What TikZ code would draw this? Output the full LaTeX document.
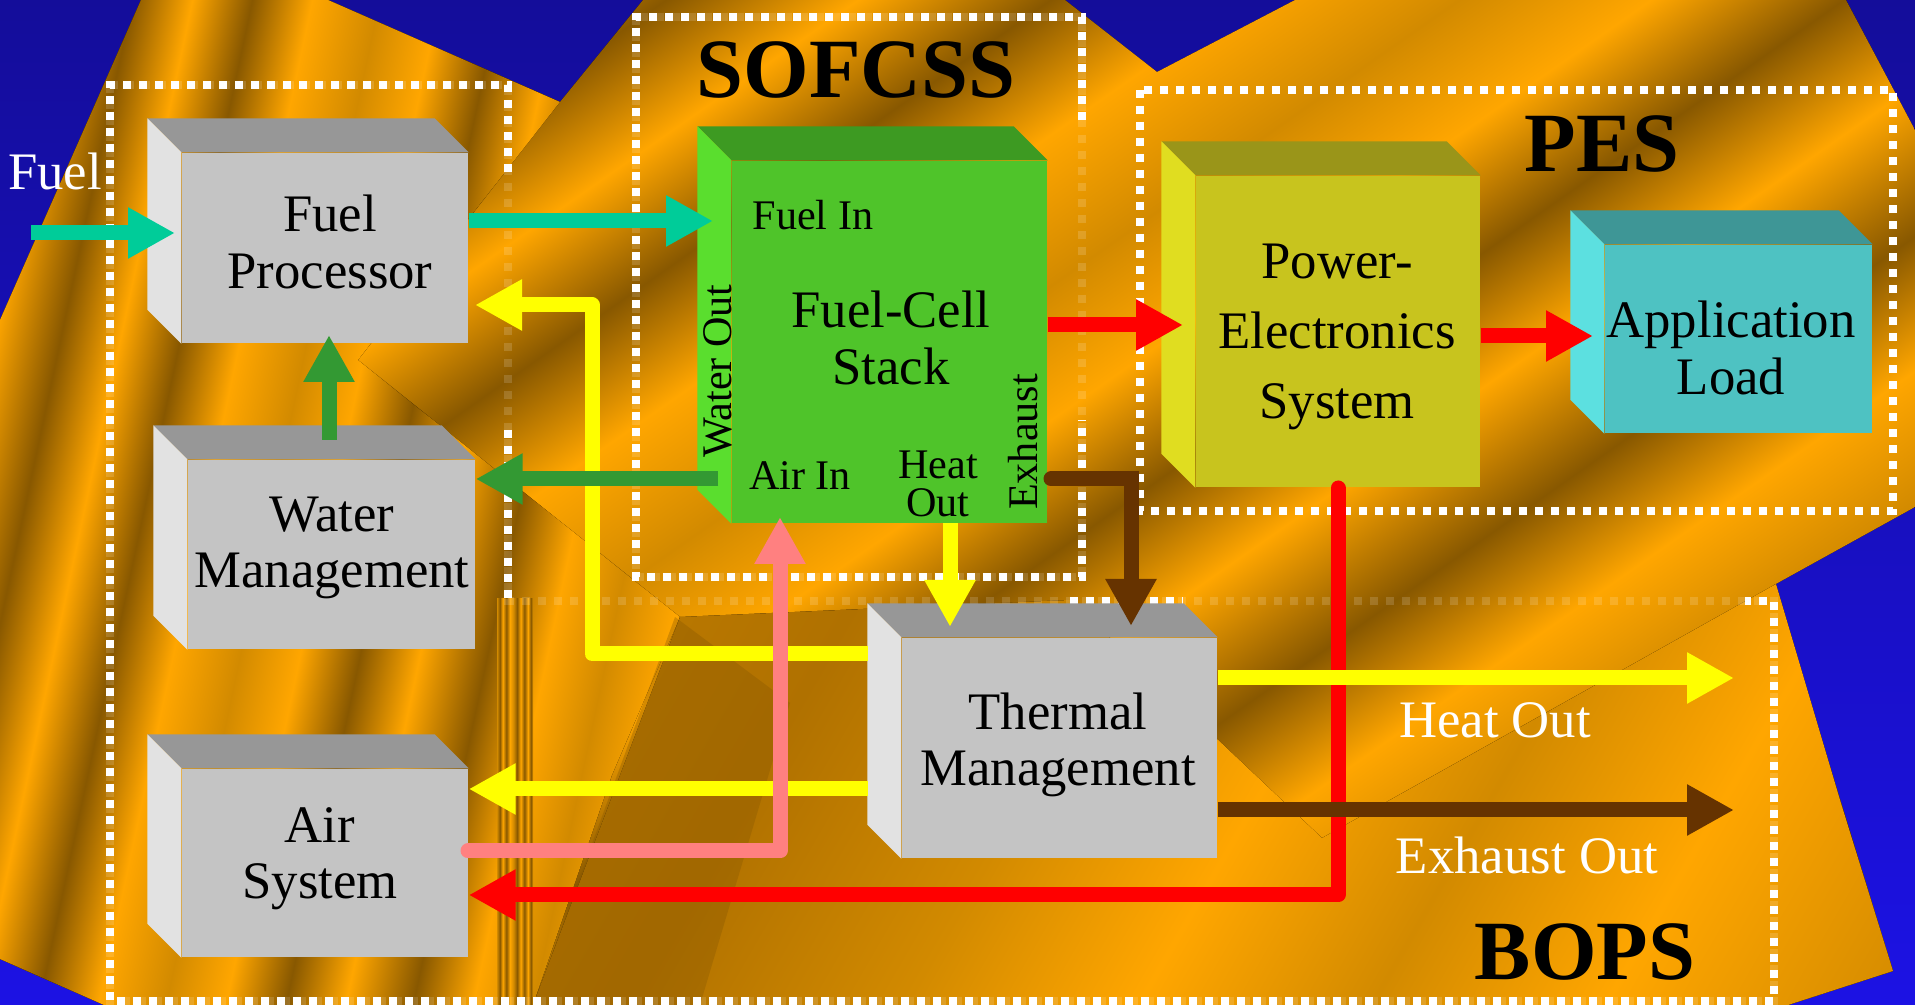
\documentclass[tikz,border=0pt]{standalone}
\usepackage{fontspec}
\setmainfont{Liberation Serif}
\usetikzlibrary{arrows.meta, calc, fit, positioning}

\definecolor{bgBlue}{RGB}{20,13,154}
\definecolor{bgBlueB}{RGB}{28,18,228}
\definecolor{goldL}{RGB}{255,166,0}
\definecolor{goldD}{RGB}{136,88,0}
\definecolor{goldM}{RGB}{210,138,0}
\definecolor{goldS}{RGB}{176,113,0}
\definecolor{greyF}{RGB}{196,196,196}
\definecolor{greyT}{RGB}{151,151,151}
\definecolor{greyL}{RGB}{226,226,226}
\definecolor{stackF}{RGB}{79,196,42}
\definecolor{stackT}{RGB}{61,154,34}
\definecolor{stackL}{RGB}{90,222,46}
\definecolor{pesF}{RGB}{200,196,30}
\definecolor{pesT}{RGB}{154,149,25}
\definecolor{pesL}{RGB}{224,221,32}
\definecolor{loadF}{RGB}{78,194,194}
\definecolor{loadT}{RGB}{62,150,150}
\definecolor{loadL}{RGB}{92,224,224}
\definecolor{cTeal}{RGB}{0,204,153}
\definecolor{cYel}{RGB}{255,255,0}
\definecolor{cGrn}{RGB}{51,153,51}
\definecolor{cRed}{RGB}{255,0,0}
\definecolor{cBrn}{RGB}{102,51,0}
\definecolor{cPink}{RGB}{255,128,128}

\pgfdeclarehorizontalshading{goldbands}{100bp}{color(0bp)=(goldL); color(4bp)=(goldD); color(8bp)=(goldL); color(12.5bp)=(goldD); color(16.5bp)=(goldL); color(20.5bp)=(goldM); color(24.5bp)=(goldL); color(29bp)=(goldD); color(33bp)=(goldL); color(37bp)=(goldD); color(41bp)=(goldL); color(45.5bp)=(goldM); color(49.5bp)=(goldL); color(53.5bp)=(goldD); color(57.5bp)=(goldL); color(62bp)=(goldD); color(66bp)=(goldL); color(70bp)=(goldM); color(74bp)=(goldL); color(78.5bp)=(goldD); color(82.5bp)=(goldL); color(86.5bp)=(goldD); color(90.5bp)=(goldL); color(95bp)=(goldM); color(100bp)=(goldL)}
\pgfdeclarehorizontalshading{goldsoft}{100bp}{color(0bp)=(goldM); color(30bp)=(goldS); color(42bp)=(goldM); color(52bp)=(goldL); color(62bp)=(goldM); color(72bp)=(goldL); color(85bp)=(goldM); color(100bp)=(goldM)}
\pgfdeclarehorizontalshading{colstripes}{100bp}{color(0bp)=(goldM); color(25bp)=(goldM); color(29bp)=(goldD); color(33bp)=(goldL); color(38bp)=(goldD); color(43bp)=(goldL); color(48bp)=(goldM); color(53bp)=(goldD); color(58bp)=(goldL); color(63bp)=(goldD); color(68bp)=(goldL); color(72bp)=(goldD); color(75bp)=(goldM); color(100bp)=(goldM)}

\tikzset{
  zone/.style={draw=white, line width=0.8mm, dash pattern=on 0.8mm off 0.8mm},
  flow/.style={line width=1.5mm, -{Triangle[length=4.7mm, width=4.8mm]}},
  boxtxt/.style={font=\fontsize{15}{16}\selectfont, align=center, inner sep=0pt},
  porttxt/.style={font=\fontsize{12}{11}\selectfont, align=center, inner sep=0pt},
  zonetxt/.style={font=\fontsize{24}{26}\selectfont\bfseries, inner sep=0pt},
  outtxt/.style={font=\fontsize{15}{16}\selectfont, text=white, inner sep=0pt}
}

% front face as a node, top and left faces drawn from its anchors
\newcommand{\cubebox}[4]{%
  \node[fit={#2 #3}, inner sep=0pt, fill=#4F] (#1) {};
  \fill[#4T] (#1.north west) -- ++(-34,-34) -- ($(#1.north east)+(-34,-34)$) -- (#1.north east) -- cycle;
  \fill[#4L] (#1.north west) -- ++(-34,-34) -- ($(#1.south west)+(-34,-34)$) -- (#1.south west) -- cycle;
}

\begin{document}
\begin{tikzpicture}[x=0.1mm, y=-0.1mm]
    \useasboundingbox (0,0) rectangle (1915,1005);

    % Background
    \fill[top color=bgBlue, bottom color=bgBlueB] (0,0) rectangle (1915,1005);
    \fill[shading=goldbands, shading angle=-55] (141,0) -- (328,0) -- (560,102) -- (643,0) -- (1065,0) -- (1157,72) -- (1295,0) -- (1846,0) -- (1915,130) -- (1915,507) -- (1774,585) -- (1893,971) -- (1788,1005) -- (104,1005) -- (0,959) -- (0,320) -- cycle;
    \fill[shading=goldbands, shading angle=-12] (0,320) -- (141,0) -- (328,0) -- (560,102) -- (358,360) -- (680,617) -- (612,775) -- (533,1005) -- (104,1005) -- (0,959) -- cycle;
    \fill[shading=goldsoft, shading angle=-30] (533,1005) -- (680,617) -- (1070,600) -- (1322,838) -- (1776,584) -- (1840,800) -- (1893,971) -- (1788,1005) -- cycle;
    \fill[goldD, opacity=0.35] (675,617) -- (790,703) -- (700,1005) -- (533,1005) -- cycle;
    \fill[shading=colstripes] (497,599) rectangle (533,1005);

    % Zones
    \draw[zone, opacity=0.15] (110,85) -- (508,85) -- (508,601) -- (1774,601) -- (1774,1001) -- (110,1001) -- cycle;
    \draw[zone] (508,172) -- (508,85) -- (110,85) -- (110,1001) -- (1774,1001) -- (1774,601) -- (1745,601);
    \draw[zone] (508,430) -- (508,601);
    \draw[zone] (1070,601) -- (1183,601);
    \draw[zone, opacity=0.15] (636,17) rectangle (1082,577);
    \draw[zone] (1082,120) -- (1082,17) -- (636,17) -- (636,577) -- (1082,577) -- (1082,420);
    \draw[zone] (1140,90) rectangle (1893,511);

    \node[zonetxt] (sofcss) at (856,70) {SOFCSS};
    \node[zonetxt] (pesz) at (1602,144) {PES};
    \node[zonetxt] (bops) at (1585,952) {BOPS};

    % Blocks
    \cubebox{fp}{(182,153)}{(468,343)}{grey}
    \cubebox{wm}{(188,460)}{(475,649)}{grey}
    \cubebox{as}{(182,769)}{(468,957)}{grey}
    \cubebox{tm}{(902,638)}{(1217,858)}{grey}
    \cubebox{fcs}{(732,161)}{(1047,523)}{stack}
    \cubebox{pes}{(1196,176)}{(1480,487)}{pes}
    \cubebox{al}{(1605,245)}{(1872,433)}{load}

    \node[boxtxt] (fp-lbl) at (330,242) {Fuel\\Processor};
    \node[boxtxt] (wm-lbl) at (332,548) {Water\\Management};
    \node[boxtxt] (as-lbl) at (320,859) {Air\\System};
    \node[boxtxt] (tm-lbl) at (1058,745) {Thermal\\Management};
    \node[boxtxt] (fcs-lbl) at (891,338) {Fuel-Cell\\Stack};
    \node[boxtxt, font=\fontsize{15}{20}\selectfont] (pes-lbl) at (1337,337) {Power-\\Electronics\\System};
    \node[boxtxt] (al-lbl) at (1731,348) {Application\\Load};

    \node[porttxt] (fcs-fuel) at (813,215) {Fuel In};
    \node[porttxt] (fcs-air) at (800,476) {Air In};
    \node[porttxt] (fcs-heat) at (938,484) {Heat\\Out};
    \node[porttxt, rotate=90] (fcs-water) at (718,371) {Water Out};
    \node[porttxt, rotate=90] (fcs-exh) at (1023,442) {Exhaust};

    \node[outtxt] (fuel-lbl) at (55,171) {Fuel};
    \node[outtxt] (heat-lbl) at (1495,720) {Heat Out};
    \node[outtxt] (exh-lbl) at (1527,855) {Exhaust Out};

    % Connection points
    \coordinate (fuel-src) at (31,233);
    \coordinate (fp-fin) at (175,233);
    \coordinate (fcs-fin) at (713,221);
    \coordinate (tm-yel1) at (868,654);
    \coordinate (yel-up) at (592,305);
    \coordinate (fp-heat) at (475,305);
    \coordinate (fcs-wout) at (718,479);
    \coordinate (wm-up) at (329,440);
    \coordinate (fp-win) at (329,335);
    \coordinate (tm-yel2) at (868,789);
    \coordinate (pes-in) at (1183,325);
    \coordinate (al-in) at (1593,336);
    \coordinate (pes-pwr) at (1338,488);
    \coordinate (pwr-c) at (1338,895);
    \coordinate (as-air) at (468,851);
    \coordinate (fcs-ain) at (780,517);
    \coordinate (fcs-hout) at (950,523);
    \coordinate (tm-hin) at (950,627);
    \coordinate (fcs-exo) at (1051,479);
    \coordinate (tm-exin) at (1131,626);
    \coordinate (heat-end) at (1734,678);
    \coordinate (exh-end) at (1734,810);

    % Flows
    \draw[flow, cRed, line cap=round, line join=round] (pes-pwr) -- (pwr-c) -- (as.east |- pwr-c);
    \draw[flow, cYel, line join=round] (tm-yel1) -| (yel-up) -- (fp-heat);
    \draw[flow, cYel] (tm-yel2) -- (as.east |- tm-yel2);
    \draw[flow, cYel] (fcs-hout) -- (tm-hin);
    \draw[flow, cYel] (tm.east |- heat-end) -- (heat-end);
    \draw[flow, cBrn, line cap=round] (fcs-exo) -| (tm-exin);
    \draw[flow, cBrn] (tm.east |- exh-end) -- (exh-end);
    \draw[flow, cPink, line cap=round, line join=round] (as-air) -| (fcs-ain);
    \draw[flow, cGrn] (fcs-wout) -- (wm.east |- fcs-wout);
    \draw[flow, cGrn] (wm-up) -- (fp-win);
    \draw[flow, cTeal] (fuel-src) -- (fp-fin);
    \draw[flow, cTeal] (fp.east |- fcs-fin) -- (fcs-fin);
    \draw[flow, cRed] (fcs.east |- pes-in) -- (pes-in);
    \draw[flow, cRed] (pes.east |- al-in) -- (al-in);

\end{tikzpicture}
\end{document}
